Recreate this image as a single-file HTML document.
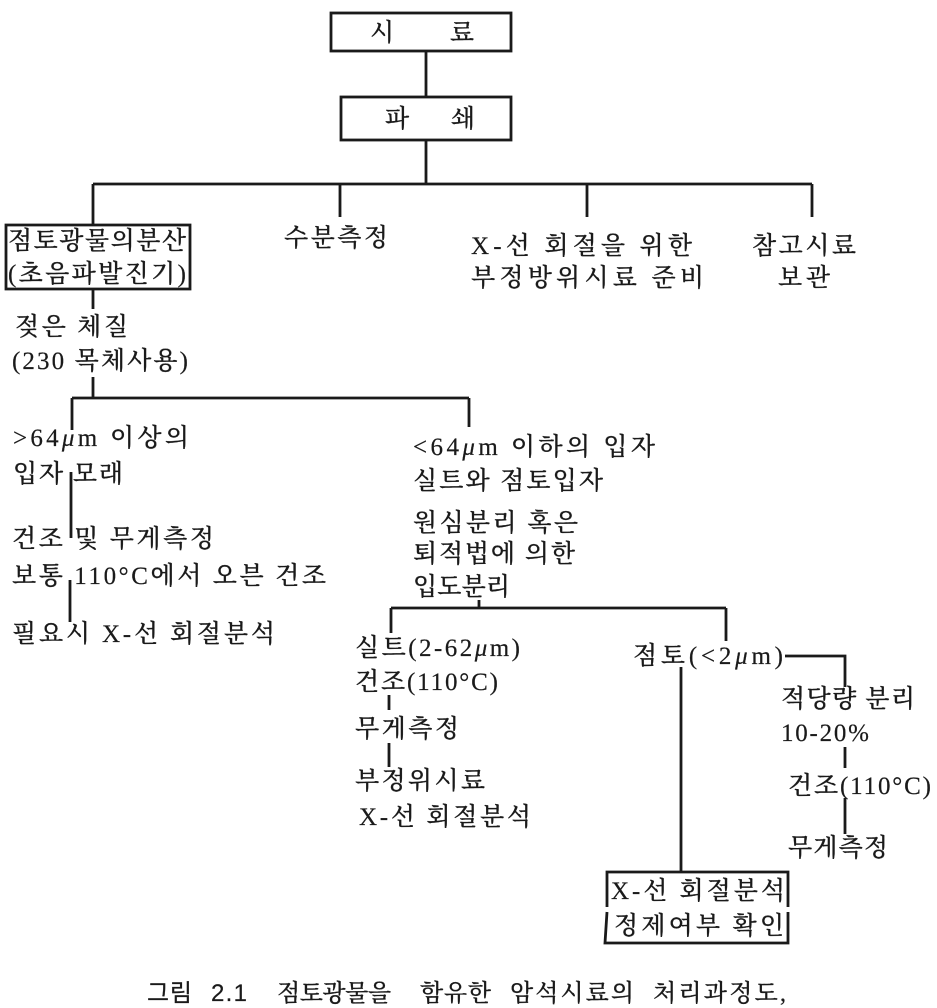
<!DOCTYPE html>
<html lang="ko"><head><meta charset="utf-8"><title>그림 2.1</title>
<style>html,body{margin:0;padding:0;background:#fff}svg{display:block}
text{font-family:"Liberation Serif","Noto Serif CJK KR","Noto Serif CJK SC",serif;font-size:25px;fill:#1a1a1a;font-weight:500;stroke:#1a1a1a;stroke-width:.2px}
.m{font-style:italic}.c{font-size:24px}.s{font-family:"Liberation Sans","Noto Sans CJK KR",sans-serif;font-size:24px;font-weight:400}</style></head>
<body>
<svg width="937" height="1008" viewBox="0 0 937 1008" xmlns="http://www.w3.org/2000/svg">
<g fill="none" stroke="#1a1a1a" stroke-width="2.8">
<rect x="331" y="13" width="180" height="38"/>
<rect x="341" y="97" width="170" height="43"/>
<path d="M6 225H190V289H6Z"/>
<path d="M607 907V872H788V907M788 912V943H605L607 912"/>
<path d="M426 51V97M426 140V184M93 184H812M93 184V225M340 184V217M587 184V217M812 184V217"/>
<path d="M93 289V309M93 377V398M72 398H469M72 398V430M469 398V427"/>
<path d="M71 472V538M70 580V622"/>
<path d="M479 600V608M391 608H726M391 608V633M726 608V641"/>
<path d="M389 695V710M389 743V767"/>
<path d="M681 667V871M785 656H845V687M845 747V768M845 798V834"/>
</g>
<text x="370" y="41" textLength="104">시&#160;&#160;&#160;&#160;&#160;&#160;료</text>
<text x="385" y="127" textLength="90">파&#160;&#160;&#160;&#160;쇄</text>
<text x="8" y="249" textLength="178">점토광물의분산</text>
<text x="8" y="282" textLength="178">(초음파발진기)</text>
<text x="284" y="246" textLength="104">수분측정</text>
<text x="471" y="254" textLength="221">X-선 회절을 위한</text>
<text x="471" y="286" textLength="233">부정방위시료 준비</text>
<text x="752" y="254" textLength="104">참고시료</text>
<text x="778" y="286" textLength="52">보관</text>
<text x="15" y="335" textLength="113">젖은 체질</text>
<text x="12" y="369" textLength="176">(230 목체사용)</text>
<text x="13" y="446" textLength="176">&gt;64<tspan class="m">μ</tspan>m 이상의</text>
<text x="13" y="482" textLength="110">입자 모래</text>
<text x="12" y="547" textLength="202">건조 및 무게측정</text>
<text x="12" y="584" textLength="314">보통 110°C에서 오븐 건조</text>
<text x="12" y="642" textLength="263">필요시 X-선 회절분석</text>
<text x="413" y="455" textLength="242">&lt;64<tspan class="m">μ</tspan>m 이하의 입자</text>
<text x="413" y="489" textLength="190">실트와 점토입자</text>
<text x="413" y="531" textLength="165">원심분리 혹은</text>
<text x="413" y="562" textLength="162">퇴적법에 의한</text>
<text x="413" y="595" textLength="97">입도분리</text>
<text x="355" y="656" textLength="165">실트(2-62<tspan class="m">μ</tspan>m)</text>
<text x="355" y="690" textLength="143">건조(110°C)</text>
<text x="355" y="737" textLength="104">무게측정</text>
<text x="355" y="789" textLength="130">부정위시료</text>
<text x="359" y="825" textLength="172">X-선 회절분석</text>
<text x="633" y="664" textLength="150">점토(&lt;2<tspan class="m">μ</tspan>m)</text>
<text x="781" y="707" textLength="134">적당량 분리</text>
<text x="781" y="741" textLength="88">10-20%</text>
<text x="788" y="794" textLength="143">건조(110°C)</text>
<text x="788" y="856" textLength="100">무게측정</text>
<text x="611" y="899" textLength="174">X-선 회절분석</text>
<text x="614" y="934" textLength="170">정제여부 확인</text>
<text class="s" x="147" y="1001" textLength="45">그림</text>
<text class="s" x="211" y="1001" textLength="36">2.1</text>
<text class="c" x="277" y="1001" textLength="114">점토광물을</text>
<text class="c" x="420" y="1001" textLength="71">함유한</text>
<text class="c" x="510" y="1001" textLength="124">암석시료의</text>
<text class="c" x="653" y="1001" textLength="133">처리과정도,</text>
</svg>
</body></html>
